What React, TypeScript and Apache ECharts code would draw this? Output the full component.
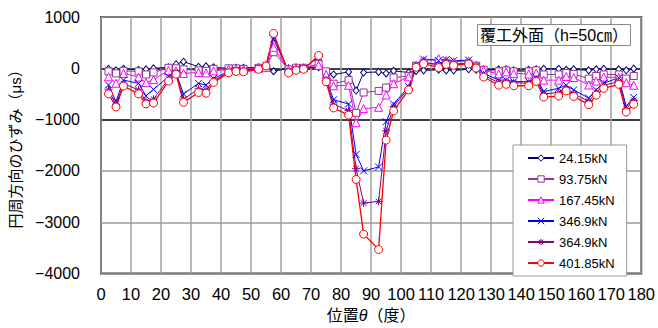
import React, { useEffect, useRef } from "react";
import * as echarts from "echarts";

const positions = [2.5, 5, 7.5, 12.5, 15, 17.5, 22.5, 25, 27.5, 32.5, 35, 37.5, 42.5, 45, 47.5, 52.5, 55, 57.5, 62.5, 65, 67.5, 72.5, 75, 77.5, 82.5, 85, 87.5, 92.5, 95, 97.5, 102.5, 105, 107.5, 112.5, 115, 117.5, 122.5, 125, 127.5, 132.5, 135, 137.5, 142.5, 145, 147.5, 152.5, 155, 157.5, 162.5, 165, 167.5, 172.5, 175, 177.5];

const seriesNames = ["24.15kN", "93.75kN", "167.45kN", "346.9kN", "364.9kN", "401.85kN"];

const s24 = [-10, -40, -10, -30, -20, 0, 20, 80, 130, 30, 40, 20, 0, 10, 10, 20, 0, -57, 0, 20, 10, 20, -70, -120, -70, -433, -82, -70, -100, -50, -82, -50, -40, -30, -40, -40, -20, -30, -20, -20, -20, -40, -30, -20, -10, -10, -30, -20, -40, -20, -10, -20, -38, -6];
const s93 = [-60, -100, -50, -60, -120, -80, 10, 0, -20, -40, -50, -10, 0, 0, -10, 10, 20, 314, -20, 10, 10, 80, -60, -300, -230, -868, -471, -441, -375, -180, -150, 50, 110, 80, 90, 80, 90, 50, -30, -60, -40, -60, -60, -40, -120, -120, -90, -110, -200, -150, -120, -120, -200, -150];
const s167 = [-165, -290, -100, -170, -280, -220, -40, -50, -100, -80, -90, -50, -20, -10, -20, 0, 20, 410, -30, 0, 10, 60, -120, -340, -330, -1060, -785, -760, -520, -300, -165, 60, 150, 190, 150, 130, 140, 60, -40, -110, -69, -100, -110, -90, -230, -230, -160, -180, -325, -250, -170, -180, -280, -330];
const s346 = [-325, -645, -230, -293, -536, -410, -165, -88, -500, -293, -325, -200, -60, -40, -50, 0, 60, 569, -50, -20, 0, 220, -200, -613, -695, -1678, -1998, -1922, -1040, -695, -357, 60, 180, 150, 170, 150, 160, 40, -100, -230, -230, -260, -260, -180, -452, -389, -330, -420, -580, -420, -290, -184, -740, -567];
const s364 = [-420, -700, -300, -420, -640, -600, -210, -100, -600, -400, -420, -240, -80, -50, -60, -10, 50, 640, -70, -30, -10, 230, -230, -700, -824, -1955, -2625, -2593, -1219, -740, -390, 30, 120, 60, 110, 80, 100, 20, -130, -280, -260, -280, -290, -210, -500, -470, -400, -500, -640, -470, -330, -260, -790, -620];
const s401 = [-498, -753, -345, -498, -695, -676, -249, -115, -663, -471, -485, -274, -88, -62, -69, -19, 46, 678, -88, -38, -19, 249, -261, -772, -912, -2165, -3230, -3531, -1399, -830, -421, 20, 90, 13, 77, 57, 85, 5, -170, -330, -312, -340, -340, -255, -561, -540, -441, -548, -709, -523, -389, -312, -852, -700];

const xTicks = [0, 180, 10];
const yTicks = [-4000, 1000, 1000];

const FONT = "'Liberation Sans', Arial, 'Noto Sans CJK JP', sans-serif";

export default function App() {
  const ref = useRef<HTMLDivElement>(null);
  useEffect(() => {
    if (!ref.current) return;
    const chart = echarts.init(ref.current, undefined, { renderer: "svg" });
    const values = [s24, s93, s167, s346, s364, s401];
    const colors = ["#000080", "#993399", "#FF00FF", "#0000FF", "#800080", "#FF0000"];
    const symbols = [
      "diamond",
      "rect",
      "triangle",
      "path://M0,0L10,10M10,0L0,10",
      "path://M0,5L10,5M5,0L5,10M1.5,1.5L8.5,8.5M8.5,1.5L1.5,8.5",
      "circle",
    ];
    const sizes = [[6, 7], 7, 8, 7, 8, 8];
    const series = values.map((vals, i) => ({
      name: seriesNames[i],
      type: "line",
      data: positions.map((p, j) => [p, vals[j]]),
      symbol: symbols[i],
      symbolSize: sizes[i],
      showAllSymbol: true,
      lineStyle: { color: colors[i], width: i === 5 ? 1.3 : 1 },
      itemStyle: { color: "#ffffff", borderColor: colors[i], borderWidth: 1 },
      emphasis: { disabled: true },
    }));
    chart.setOption({
      animation: false,
      backgroundColor: "#ffffff",
      textStyle: { fontFamily: FONT },
      title: {
        text: "覆工外面（h=50㎝）",
        left: 477,
        top: 24,
        padding: [3, 3, 3, 3],
        borderColor: "#888",
        borderWidth: 1,
        backgroundColor: "#fff",
        textStyle: { fontSize: 16, fontWeight: "normal", color: "#000", fontFamily: FONT },
      },
      legend: {
        orient: "vertical",
        left: 513,
        top: 145,
        padding: [6, 12, 6, 14],
        itemWidth: 26,
        itemHeight: 8,
        itemGap: 7,
        borderColor: "#999",
        borderWidth: 1,
        backgroundColor: "#fff",
        textStyle: { fontSize: 13, color: "#000", fontFamily: FONT, lineHeight: 14 },
        data: seriesNames.map((n, i) => ({
          name: n,
          itemStyle: { color: "#ffffff", borderColor: colors[i], borderWidth: 1 },
        })),
      },
      grid: {
        left: 101,
        right: 15,
        top: 17,
        bottom: 50,
        show: true,
        borderColor: "#333",
        borderWidth: 2,
        containLabel: false,
      },
      xAxis: {
        type: "value",
        min: xTicks[0],
        max: xTicks[1],
        interval: xTicks[2],
        name: "位置{i|θ}（度）",
        nameLocation: "middle",
        nameGap: 30,
        nameTextStyle: {
          fontSize: 16,
          color: "#000",
          fontFamily: FONT,
          rich: { i: { fontSize: 16, fontStyle: "italic", fontFamily: FONT, color: "#000" } },
        },
        axisLine: { show: false },
        axisTick: { show: false },
        axisLabel: { fontSize: 16.5, color: "#000", margin: 12, fontFamily: FONT },
        splitLine: { show: true, lineStyle: { color: "#a0a0a0", width: 1.5 } },
      },
      yAxis: {
        type: "value",
        min: yTicks[0],
        max: yTicks[1],
        interval: yTicks[2],
        name: "円周方向のひずみ（μs）",
        nameLocation: "middle",
        nameRotate: 90,
        nameGap: 78,
        nameTextStyle: { fontSize: 15, color: "#000", fontFamily: FONT },
        axisLine: { show: false },
        axisTick: { show: false },
        axisLabel: {
          fontSize: 16,
          color: "#000",
          margin: 21,
          fontFamily: FONT,
          formatter: (v: number) => String(v).replace("-", "\u2212"),
        },
        splitLine: {
          show: true,
          lineStyle: { color: ["#999", "#999", "#999", "#000", "#000", "#999"], width: 1.5 },
        },
      },
      series,
    });
    return () => chart.dispose();
  }, []);
  return (
    <div
      ref={ref}
      style={{ position: "fixed", left: 0, top: 0, width: 658, height: 328 }}
    />
  );
}
